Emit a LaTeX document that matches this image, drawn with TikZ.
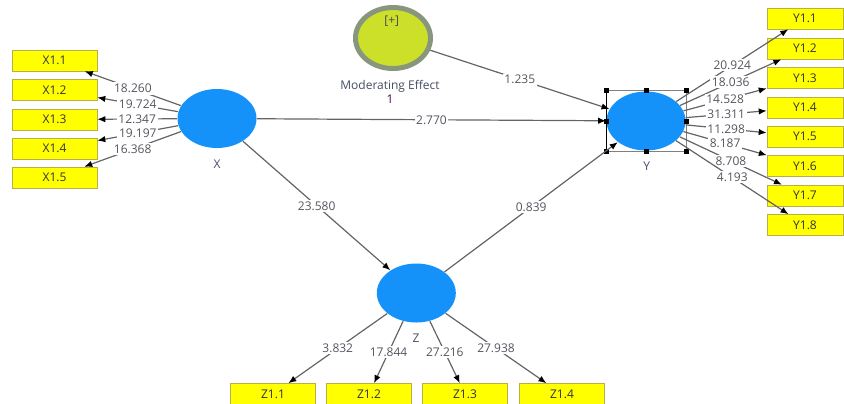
\documentclass[tikz,border=0pt]{standalone}
\usepackage{fontspec}
\setmainfont{Open Sans}
\usepackage{tikz}
\usetikzlibrary{shapes.geometric , arrows.meta}

\definecolor{lvblue}{RGB}{20,146,250}
\definecolor{modfill}{RGB}{204,224,42}
\definecolor{modedge}{RGB}{136,150,126}
\definecolor{indfill}{RGB}{255,255,0}
\definecolor{indedge}{RGB}{185,175,70}
\definecolor{linegray}{RGB}{100,100,100}
\definecolor{valgray}{RGB}{85,85,95}
\definecolor{namegray}{RGB}{70,78,100}

\begin{document}
\begin{tikzpicture}[x = 0.5pt , y = -0.5pt ,
    latent/.style = {ellipse , fill = lvblue , minimum width = 39.5pt , minimum height = 29.5pt , inner sep = 0pt},
    indicator/.style = {rectangle , fill = indfill , draw = indedge , line width = 0.3pt , minimum width = 42.5pt , minimum height = 10.5pt , inner sep = 0pt , font = \fontsize{6}{7}\selectfont , text = black!80},
    pathline/.style = {draw = linegray , line width = 0.6pt , -{Latex[length = 4pt , width = 3.2pt , color = black]}},
    coef/.style = {fill = white , inner sep = 0.8pt , font = \fontsize{6}{7}\selectfont , text = valgray},
    lvname/.style = {font = \fontsize{6}{7}\selectfont , text = namegray}]
    \useasboundingbox (0,0) rectangle (844,403);

    % Latente Variablen
    \node[latent] (X) at (217,118.5) {};
    \node[latent] (Y) at (646,121) {};
    \node[latent] (Z) at (416.3,293) {};
    \node[ellipse , fill = modfill , draw = modedge , line width = 2.5pt , minimum width = 37.5pt , minimum height = 30.5pt] (M) at (393,38) {};
    \node[lvname] (Xname) at (217,164) {X};
    \node[lvname] (Yname) at (646.7,166.7) {Y};
    \node[lvname] (Zname) at (416,338) {Z};
    \node[font = \fontsize{6}{7}\selectfont , text = black!70] (Mplus) at (391.7,20.7) {[+]};
    \node[lvname , align = center] (Mname) at (390,92) {Moderating Effect\\\textcolor{violet!70!black}{1}};

    % Auswahlrahmen um Y
    \draw[gray , line width = 0.5pt] (606.7,90.7) rectangle (686,151.7);
    \draw[black , line width = 0.6pt] (606.7,90.7) -- (606.7,151.7);
    \foreach \hx/\hy in {606.7/90.7 , 646.3/90.7 , 686/90.7 , 606.7/121.2 , 686/121.2 , 606.7/151.7 , 646.3/151.7 , 686/151.7}
        \fill[black] (\hx - 2.5 , \hy - 2.5) rectangle (\hx + 2.5 , \hy + 2.5);

    % Indikatoren X
    \node[indicator] (x11) at (54.5,60.5) {X1.1};
    \node[indicator] (x12) at (54.5,90) {X1.2};
    \node[indicator] (x13) at (54.5,119.5) {X1.3};
    \node[indicator] (x14) at (54.5,148.5) {X1.4};
    \node[indicator] (x15) at (54.5,177.5) {X1.5};

    % Indikatoren Y
    \node[indicator , minimum width = 38pt] (y11) at (805,18.5) {Y1.1};
    \node[indicator , minimum width = 38pt] (y12) at (805,48.5) {Y1.2};
    \node[indicator , minimum width = 38pt] (y13) at (805,78) {Y1.3};
    \node[indicator , minimum width = 38pt] (y14) at (805,107.5) {Y1.4};
    \node[indicator , minimum width = 38pt] (y15) at (805,136.5) {Y1.5};
    \node[indicator , minimum width = 38pt] (y16) at (805,166) {Y1.6};
    \node[indicator , minimum width = 38pt] (y17) at (805,195.5) {Y1.7};
    \node[indicator , minimum width = 38pt] (y18) at (805,225) {Y1.8};

    % Indikatoren Z
    \node[indicator] (z11) at (273,394) {Z1.1};
    \node[indicator] (z12) at (369,394) {Z1.2};
    \node[indicator] (z13) at (465,394) {Z1.3};
    \node[indicator] (z14) at (562,394) {Z1.4};

    % Strukturmodell
    \draw[pathline] (M) -- (Y) node[coef , midway]{1.235};
    \draw[pathline] (X) -- (Y) node[coef , midway]{2.770};
    \draw[pathline] (X) -- (Z) node[coef , midway]{23.580};
    \draw[pathline] (Z) -- (Y) node[coef , midway]{0.839};

    % Messmodell X
    \draw[pathline] (X) -- (x11) node[coef , midway]{18.260};
    \draw[pathline] (X) -- (x12) node[coef , midway]{19.724};
    \draw[pathline] (X) -- (x13) node[coef , midway]{12.347};
    \draw[pathline] (X) -- (x14) node[coef , midway]{19.197};
    \draw[pathline] (X) -- (x15) node[coef , midway]{16.368};

    % Messmodell Y
    \draw[pathline] (Y) -- (y11) node[coef , midway]{20.924};
    \draw[pathline] (Y) -- (y12) node[coef , midway]{18.036};
    \draw[pathline] (Y) -- (y13) node[coef , midway]{14.528};
    \draw[pathline] (Y) -- (y14) node[coef , midway]{31.311};
    \draw[pathline] (Y) -- (y15) node[coef , midway]{11.298};
    \draw[pathline] (Y) -- (y16) node[coef , midway]{8.187};
    \draw[pathline] (Y) -- (y17) node[coef , midway]{8.708};
    \draw[pathline] (Y) -- (y18) node[coef , midway]{4.193};

    % Messmodell Z
    \draw[pathline] (Z) -- (z11) node[coef , midway]{3.832};
    \draw[pathline] (Z) -- (z12) node[coef , midway]{17.844};
    \draw[pathline] (Z) -- (z13) node[coef , midway]{27.216};
    \draw[pathline] (Z) -- (z14) node[coef , midway]{27.938};
\end{tikzpicture}
\end{document}
